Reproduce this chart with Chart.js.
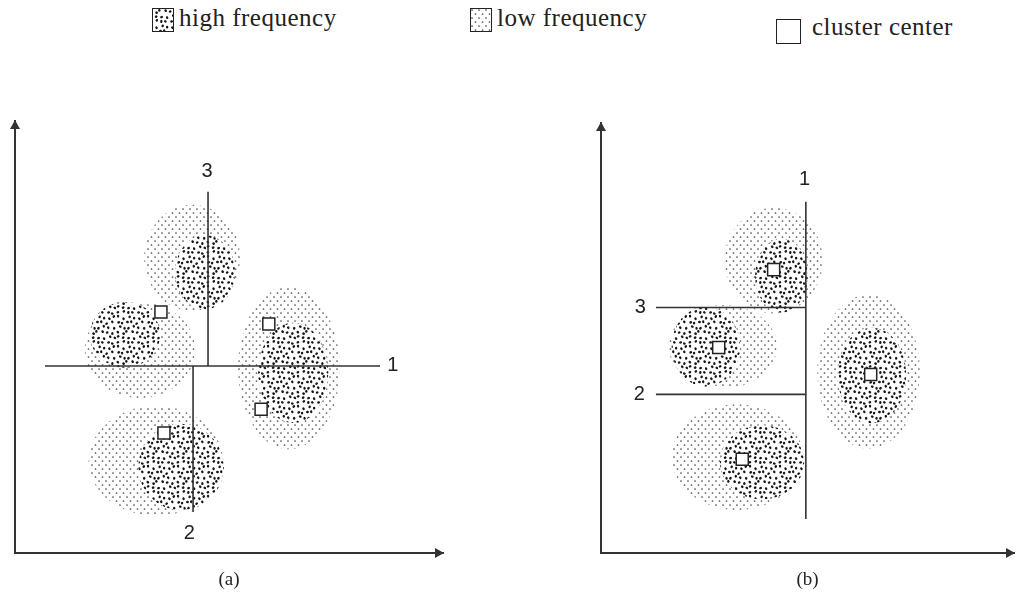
<!DOCTYPE html>
<html>
<head>
<meta charset="utf-8">
<script src="https://cdn.jsdelivr.net/npm/chart.js@4.4.0/dist/chart.umd.min.js"></script>
<style>
html, body { margin: 0; padding: 0; background: #fff; width: 1024px; height: 592px; overflow: hidden; }
.panel { position: absolute; top: 0; width: 512px; height: 592px; }
.item { position: absolute; font-family: "Liberation Serif", serif; font-size: 25px; letter-spacing: 0.5px; color: #222; white-space: nowrap; }
.swatch { position: absolute; border: 1px solid #222; box-sizing: border-box; }
</style>
</head>
<body>
<canvas id="swHigh" class="swatch" width="20" height="22" style="left:152px;top:8px"></canvas>
<div class="item" style="left:179px;top:4px">high frequency</div>
<canvas id="swLow" class="swatch" width="20" height="22" style="left:470px;top:8px"></canvas>
<div class="item" style="left:497px;top:4px">low frequency</div>
<div class="swatch" style="left:776px;top:19px;width:25px;height:25px;border-width:1.5px"></div>
<div class="item" style="left:812px;top:13px">cluster center</div>

<div class="panel" style="left:0"><canvas id="chartA" width="512" height="592"></canvas></div>
<div class="panel" style="left:512px"><canvas id="chartB" width="512" height="592"></canvas></div>

<script>
// axis units 0..100 both ways
// (a) low frequency regions: centre and radii
const lowA_x  = [41.4, 29.2, 64.0, 32.9];
const lowA_y  = [68.3, 47.0, 42.8, 21.3];
const lowA_rx = [11.2, 12.9, 11.9, 15.7];
const lowA_ry = [12.3, 11.1, 18.8, 12.7];
// (a) high frequency regions
const highA_x  = [44.4, 25.7, 65.0, 38.8];
const highA_y  = [65.0, 50.5, 41.7, 19.9];
const highA_rx = [7.0, 8.2, 8.2, 10.0];
const highA_ry = [8.6, 7.6, 11.6, 10.0];
// (a) cluster centers
const centerA_x = [34.1, 59.3, 57.5, 34.8];
const centerA_y = [55.8, 53.0, 33.3, 27.8];
// (a) partition lines 1,2,3
const splitA_names = ['1', '2', '3'];
const splitA_x = [[7.0, 85.3], [41.6, 41.6], [45.1, 45.1]];
const splitA_y = [[43.3, 43.3], [43.3, 9.5], [43.3, 83.6]];
const labelA_x = [88.3, 40.7, 44.9];
const labelA_y = [43.3, 4.6, 88.2];

// (b)
const lowB_x  = [41.8, 29.5, 33.0, 64.8];
const lowB_y  = [68.0, 48.0, 22.3, 42.2];
const lowB_rx = [11.9, 13.1, 15.9, 12.4];
const lowB_ry = [12.3, 9.7, 12.3, 17.9];
const highB_x  = [43.7, 25.4, 39.0, 65.6];
const highB_y  = [64.5, 48.0, 21.1, 41.3];
const highB_rx = [6.4, 8.3, 10.2, 8.3];
const highB_ry = [8.6, 9.3, 8.6, 11.1];
const centerB_x = [41.8, 28.5, 34.2, 65.3];
const centerB_y = [65.9, 47.8, 21.8, 41.5];
const splitB_names = ['1', '2', '3'];
const splitB_x = [[49.6, 49.6], [13.3, 49.6], [13.3, 49.6]];
const splitB_y = [[81.7, 7.9], [36.9, 36.9], [57.1, 57.1]];
const labelB_x = [49.3, 9.3, 9.5];
const labelB_y = [86.8, 36.9, 57.1];

// stipple textures
function lowPattern(ctx) {
    const t = document.createElement('canvas');
    t.width = 7; t.height = 8;
    const c = t.getContext('2d');
    c.fillStyle = '#4a4a4a';
    [[1, 1], [4.5, 5]].forEach(p => {
        c.beginPath(); c.arc(p[0], p[1], 0.85, 0, Math.PI * 2); c.fill();
    });
    return ctx.createPattern(t, 'repeat');
}
function hash(k) {
    const s = Math.sin(k * 12.9898) * 43758.5453;
    return s - Math.floor(s);
}
function highPattern(ctx) {
    const t = document.createElement('canvas');
    t.width = 30; t.height = 30;
    const c = t.getContext('2d');
    c.fillStyle = '#161616';
    let k = 0;
    for (let gy = 0; gy < 6; gy++) {
        for (let gx = 0; gx < 6; gx++) {
            k++;
            const jx = (hash(k) - 0.5) * 2.6;
            const jy = (hash(k + 100) - 0.5) * 2.6;
            const x = gx * 5 + 2.5 + jx + (gy % 2) * 1.5, y = gy * 5 + 2.5 + jy;
            // draw wrapped so the tile stays seamless
            [-30, 0, 30].forEach(ox => [-30, 0, 30].forEach(oy => {
                c.beginPath();
                c.ellipse(x + ox, y + oy, 1.45, 1.2, hash(k + 200) * 3, 0, Math.PI * 2);
                c.fill();
            }));
        }
    }
    return ctx.createPattern(t, 'repeat');
}

function ellipses(chart, xs, ys, rxs, rys, fill, clearFirst) {
    const ctx = chart.ctx, sx = chart.scales.x, sy = chart.scales.y;
    xs.forEach((v, i) => {
        const px = sx.getPixelForValue(v), py = sy.getPixelForValue(ys[i]);
        const rx = Math.abs(sx.getPixelForValue(v + rxs[i]) - px);
        const ry = Math.abs(sy.getPixelForValue(ys[i] + rys[i]) - py);
        ctx.beginPath();
        ctx.ellipse(px, py, rx, ry, 0, 0, Math.PI * 2);
        if (clearFirst) { ctx.fillStyle = '#fff'; ctx.fill(); }
        ctx.fillStyle = fill;
        ctx.fill();
    });
}

const stipple = {
    id: 'stipple',
    beforeDatasetsDraw(chart, args, opts) {
        const ctx = chart.ctx;
        ctx.save();
        ellipses(chart, opts.low[0], opts.low[1], opts.low[2], opts.low[3], lowPattern(ctx), false);
        ellipses(chart, opts.high[0], opts.high[1], opts.high[2], opts.high[3], highPattern(ctx), true);
        ctx.restore();
    },
    afterDatasetsDraw(chart, args, opts) {
        const ctx = chart.ctx, sx = chart.scales.x, sy = chart.scales.y;
        ctx.save();
        ctx.fillStyle = '#222';
        ctx.font = '20px "Liberation Sans", sans-serif';
        ctx.textAlign = 'center';
        ctx.textBaseline = 'middle';
        opts.names.forEach((n, i) => {
            ctx.fillText(n, sx.getPixelForValue(opts.lx[i]), sy.getPixelForValue(opts.ly[i]));
        });
        ctx.restore();
    },
    afterDraw(chart) {
        const ctx = chart.ctx, a = chart.chartArea;
        ctx.save();
        ctx.fillStyle = '#333';
        ctx.beginPath();
        ctx.moveTo(a.left, a.top - 1);
        ctx.lineTo(a.left - 5, a.top + 8);
        ctx.lineTo(a.left + 5, a.top + 8);
        ctx.closePath();
        ctx.fill();
        ctx.beginPath();
        ctx.moveTo(a.right + 1, a.bottom);
        ctx.lineTo(a.right - 8, a.bottom - 5);
        ctx.lineTo(a.right - 8, a.bottom + 5);
        ctx.closePath();
        ctx.fill();
        ctx.restore();
    }
};

function makeChart(id, caption, cx, cy, lx, ly, low, high, names, labX, labY, pad) {
    const datasets = [{
        label: 'cluster center',
        data: cx.map((v, i) => ({ x: v, y: cy[i] })),
        pointStyle: 'rect',
        pointRadius: 8.5,
        pointBackgroundColor: '#fff',
        pointBorderColor: '#222',
        pointBorderWidth: 1.5
    }];
    lx.forEach((xs, i) => {
        datasets.push({
            label: 'split ' + names[i],
            type: 'line',
            data: xs.map((v, j) => ({ x: v, y: ly[i][j] })),
            borderColor: '#333',
            borderWidth: 1.6,
            pointRadius: 0,
            fill: false
        });
    });
    return new Chart(document.getElementById(id), {
        type: 'scatter',
        data: { datasets: datasets },
        options: {
            responsive: false,
            animation: false,
            devicePixelRatio: 1,
            layout: { padding: pad },
            plugins: {
                legend: { display: false },
                tooltip: { enabled: false },
                stipple: { low: low, high: high, names: names, lx: labX, ly: labY }
            },
            scales: {
                x: {
                    min: 0, max: 100,
                    grid: { display: false, drawTicks: false },
                    ticks: { display: false },
                    border: { display: true, color: '#333', width: 2 },
                    title: {
                        display: true, text: caption, color: '#222',
                        font: { family: '"Liberation Serif", serif', size: 19 },
                        padding: { top: 0, bottom: 1 }
                    },
                    afterFit: s => { s.height = 39; }
                },
                y: {
                    min: 0, max: 100,
                    grid: { display: false, drawTicks: false },
                    ticks: { display: false },
                    border: { display: true, color: '#333', width: 2 },
                    afterFit: s => { s.width = 0; }
                }
            }
        },
        plugins: [stipple]
    });
}

makeChart('chartA', '(a)', centerA_x, centerA_y, splitA_x, splitA_y,
    [lowA_x, lowA_y, lowA_rx, lowA_ry], [highA_x, highA_y, highA_rx, highA_ry],
    splitA_names, labelA_x, labelA_y, { left: 15, right: 69, top: 121, bottom: 0 });
makeChart('chartB', '(b)', centerB_x, centerB_y, splitB_x, splitB_y,
    [lowB_x, lowB_y, lowB_rx, lowB_ry], [highB_x, highB_y, highB_rx, highB_ry],
    splitB_names, labelB_x, labelB_y, { left: 89, right: 2, top: 123, bottom: 0 });

// legend swatches use the same textures
['swHigh', 'swLow'].forEach(id => {
    const c = document.getElementById(id), ctx = c.getContext('2d');
    ctx.fillStyle = '#fff';
    ctx.fillRect(0, 0, c.width, c.height);
    ctx.fillStyle = id === 'swHigh' ? highPattern(ctx) : lowPattern(ctx);
    ctx.fillRect(0, 0, c.width, c.height);
});
</script>
</body>
</html>
